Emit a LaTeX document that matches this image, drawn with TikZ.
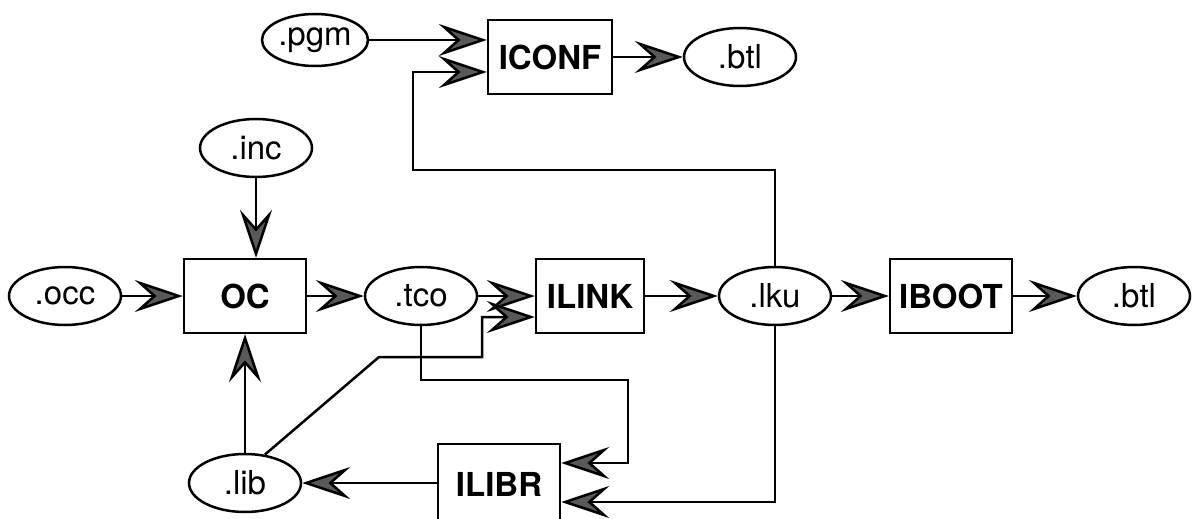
\documentclass[tikz,border=0pt]{standalone}
\usepackage{fontspec}
\setmainfont{TeX Gyre Heros}
\usetikzlibrary{arrows.meta,shapes.geometric}

\begin{document}
\begin{tikzpicture}[x=0.5pt,y=-0.5pt,line width=1.25pt,
    font=\fontsize{16.5}{19}\selectfont,
    file/.style={draw,ellipse,minimum width=56pt,minimum height=29pt,inner sep=0pt},
    tool/.style={draw,rectangle,minimum width=61pt,minimum height=37pt,inner sep=0pt,
      font=\fontsize{16.5}{19}\selectfont\bfseries},
    >={Stealth[length=24pt,width=16pt,inset=9pt,fill=black!65]}]
  \useasboundingbox (0,0) rectangle (1200,519);

  \node[file,minimum width=53pt,minimum height=26pt] (pgm) at (315,40) {.pgm};
  \node[tool,minimum width=62pt] (iconf) at (550,57) {ICONF};
  \node[file] (btla) at (740,57) {.btl};
  \node[file] (inc) at (256,148) {.inc};
  \node[file] (occ) at (65,296) {.occ};
  \node[tool] (oc) at (245,296) {OC};
  \node[file] (tco) at (421,296) {.tco};
  \node[tool,minimum width=54pt] (ilink) at (590,296) {ILINK};
  \node[file] (lku) at (775,296) {.lku};
  \node[tool] (iboot) at (951,296) {IBOOT};
  \node[file] (btlb) at (1134,296) {.btl};
  \node[file] (lib) at (245,483) {.lib};
  \node[tool,minimum height=40pt] (ilibr) at (499,484) {ILIBR};

  \draw[->] (pgm) -- (pgm -| iconf.west);
  \draw[->] (iconf) -- (btla);
  \draw[->] (lku) |- (413,170) |- (iconf.west |- 0,72);
  \draw[->] (inc) -- (inc |- oc.north);
  \draw[->] (occ) -- (oc);
  \draw[->] (oc) -- (tco);
  \draw[->] (tco) -- (ilink);
  \draw[->] (ilink) -- (lku);
  \draw[->] (lku) -- (iboot);
  \draw[->] (iboot) -- (btlb);
  \draw[->] (lib) -- (lib |- oc.south);
  \draw[->] (ilibr.west |- lib) -- (lib);
  \draw[->] (lib.55) -- (379,357) -| (482,317) -- (ilink.west |- 0,317);
  \draw[->] (tco) |- (628,380) |- (ilibr.east |- 0,463);
  \draw[->] (lku) |- (ilibr.east |- 0,502);
\end{tikzpicture}
\end{document}
